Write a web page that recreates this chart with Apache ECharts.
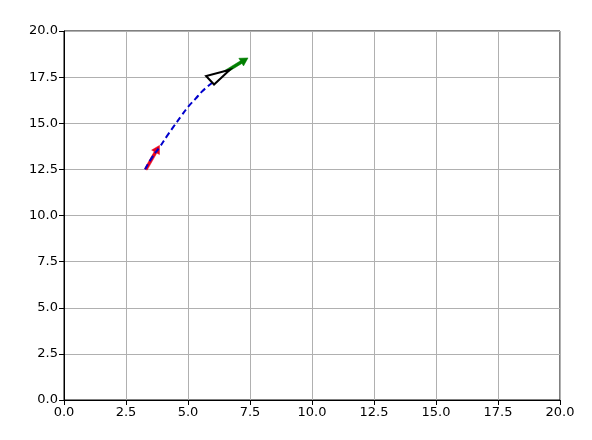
<!DOCTYPE html>
<html><head><meta charset="utf-8">
<script src="https://cdn.jsdelivr.net/npm/echarts@6/dist/echarts.min.js"></script>
<style>html,body{margin:0;padding:0;background:#fff}#c{width:592px;height:440px}</style>
</head><body><div id="c"></div>
<script>
const ticks = [0, 2.5, 5, 7.5, 10, 12.5, 15, 17.5, 20];
const curveX = [3.27, 3.55, 3.87, 4.15, 4.41, 4.72, 5.01, 5.30, 5.55, 5.80, 6.02, 6.20];
const curveY = [12.5, 13.15, 13.73, 14.3, 14.8, 15.38, 15.9, 16.32, 16.7, 17.0, 17.25, 17.5];
const redArrow = [[3.30, 12.5], [3.85, 13.8]];
const greenArrow = [[6.40, 17.7], [7.42, 18.54]];
const triX = [5.73, 6.05, 6.69];
const triY = [17.56, 17.1, 17.9];

const chart = echarts.init(document.getElementById('c'), null, {renderer: 'canvas'});
const font = 'DejaVu Sans';
function arrowSeries(pts, color) {
  return {
    type: 'custom',
    coordinateSystem: 'cartesian2d',
    data: [[pts[0][0], pts[0][1], pts[1][0], pts[1][1]]],
    z: 3,
    renderItem: function (params, api) {
      const a = api.coord([api.value(0), api.value(1)]);
      const b = api.coord([api.value(2), api.value(3)]);
      const dx = b[0] - a[0], dy = b[1] - a[1];
      const L = Math.sqrt(dx * dx + dy * dy);
      const ux = dx / L, uy = dy / L, nx = -uy, ny = ux;
      const hl = 8, hw = 4.5, sw = 1.5;
      const bx = b[0] - ux * hl, by = b[1] - uy * hl;
      const poly = [
        [a[0] + nx * sw, a[1] + ny * sw],
        [bx + nx * sw, by + ny * sw],
        [bx + nx * hw, by + ny * hw],
        [b[0], b[1]],
        [bx - nx * hw, by - ny * hw],
        [bx - nx * sw, by - ny * sw],
        [a[0] - nx * sw, a[1] - ny * sw]
      ];
      return {type: 'polygon', shape: {points: poly}, style: {fill: color, stroke: color, lineWidth: 0.5}};
    }
  };
}
chart.setOption({
  animation: false,
  grid: {left: 64, right: 32, top: 31, bottom: 40, show: true, borderColor: '#000', borderWidth: 1, backgroundColor: 'transparent'},
  xAxis: {
    type: 'value', min: 0, max: 20, interval: 2.5,
    axisLine: {show: true, lineStyle: {color: '#000', width: 1}},
    axisTick: {show: true, length: 5, lineStyle: {color: '#000'}},
    axisLabel: {color: '#000', fontFamily: font, fontSize: 13, margin: 6, formatter: v => v.toFixed(1)},
    splitLine: {show: true, lineStyle: {color: '#b0b0b0', width: 1}}
  },
  yAxis: {
    type: 'value', min: 0, max: 20, interval: 2.5,
    axisLine: {show: true, lineStyle: {color: '#000', width: 1}},
    axisTick: {show: true, length: 5, lineStyle: {color: '#000'}},
    axisLabel: {color: '#000', fontFamily: font, fontSize: 13, margin: 6, formatter: v => v.toFixed(1)},
    splitLine: {show: true, lineStyle: {color: '#b0b0b0', width: 1}}
  },
  series: [
    arrowSeries(redArrow, '#e8001c'),
    arrowSeries(greenArrow, '#007f00'),
    {
      type: 'line', data: curveX.map((x, i) => [x, curveY[i]]), smooth: true, symbol: 'none',
      lineStyle: {color: '#0000cc', width: 2, type: [6, 3.5]}, z: 4
    },
    {
      type: 'custom', coordinateSystem: 'cartesian2d', z: 6,
      data: [triX.map((x, i) => [x, triY[i]]).flat()],
      renderItem: function (params, api) {
        const pts = [];
        for (let i = 0; i < 3; i++) pts.push(api.coord([api.value(2 * i), api.value(2 * i + 1)]));
        return {type: 'polygon', shape: {points: pts}, style: {fill: '#fff', stroke: '#000', lineWidth: 2}};
      }
    }
  ]
});
</script></body></html>
